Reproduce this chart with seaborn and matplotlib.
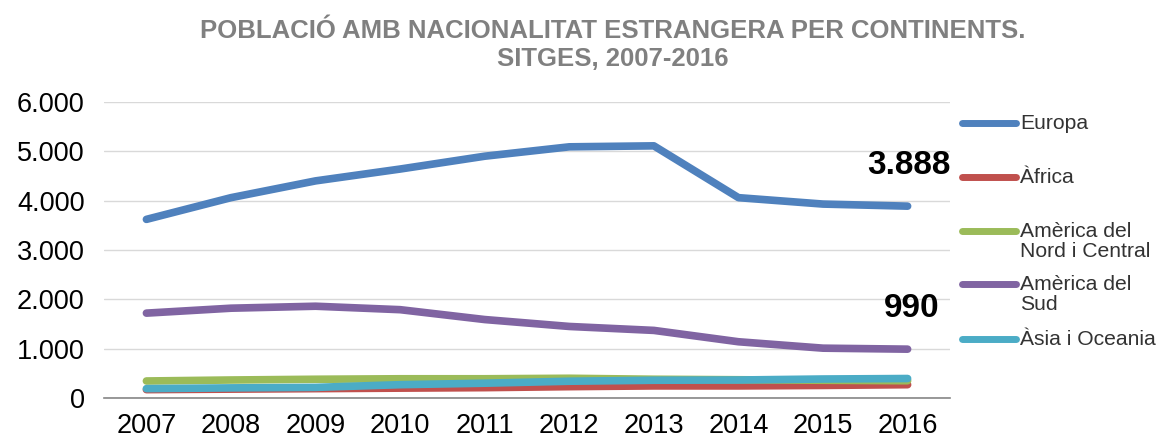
import seaborn as sns
import matplotlib.pyplot as plt
import matplotlib
import pandas as pd
from matplotlib.lines import Line2D
from matplotlib.ticker import FuncFormatter, FixedLocator

years = ['2007', '2008', '2009', '2010', '2011', '2012', '2013', '2014', '2015', '2016']
europa = [3620, 4060, 4400, 4640, 4900, 5090, 5110, 4060, 3930, 3888]
africa = [170, 180, 190, 200, 210, 230, 245, 245, 255, 270]
america_nc = [345, 365, 380, 390, 390, 400, 380, 370, 360, 350]
america_sud = [1720, 1820, 1860, 1790, 1590, 1450, 1370, 1140, 1010, 990]
asia_oceania = [190, 205, 215, 270, 300, 340, 360, 365, 385, 395]

names = ['Europa', 'Àfrica', 'Amèrica del\nNord i Central', 'Amèrica del\nSud', 'Àsia i Oceania']
colors = ['#4F81BD', '#C0504D', '#9BBB59', '#8064A2', '#4BACC6']
series = [europa, africa, america_nc, america_sud, asia_oceania]

rows = []
for name, vals in zip(names, series):
    for i, v in enumerate(vals):
        rows.append({'pos': i, 'any': years[i], 'serie': name, 'valor': v})
df = pd.DataFrame(rows)

sns.set_style('white')
matplotlib.rcParams['font.family'] = ['Liberation Sans', 'DejaVu Sans']

fig = plt.figure(figsize=(11.57, 4.38), dpi=100)
ax = fig.add_axes([0.09, 0.0913, 0.731, 0.676])

sns.lineplot(data=df, x='pos', y='valor', hue='serie', palette=dict(zip(names, colors)),
             hue_order=names, linewidth=5.5, sort=False, legend=False, ax=ax,
             solid_capstyle='round')

ax.set_xlim(-0.5, len(years) - 0.5)
ax.set_ylim(0, 6000)
ax.set_yticks(range(0, 6001, 1000))
ax.yaxis.set_major_formatter(FuncFormatter(lambda v, p: f'{int(v):,}'.replace(',', '.')))
ax.set_xticks(range(len(years)))
ax.set_xticklabels(years)
ax.xaxis.set_minor_locator(FixedLocator([i - 0.5 for i in range(len(years) + 1)]))
ax.tick_params(axis='x', which='major', length=0, labelsize=19.5, pad=11, colors='black')
ax.tick_params(axis='x', which='minor', length=8, width=1.2, color='#868686', direction='out')
ax.tick_params(axis='y', length=0, labelsize=19.5, pad=14, colors='black')
ax.set_xlabel('')
ax.set_ylabel('')
ax.grid(axis='y', color='#D9D9D9', linewidth=1)
ax.set_axisbelow(True)
for s in ['left', 'right', 'top']:
    ax.spines[s].set_visible(False)
ax.spines['bottom'].set_color('#868686')
ax.spines['bottom'].set_linewidth(1.2)

ax.annotate(f'{europa[-1]:,}'.replace(',', '.'), (len(years) - 1, europa[-1]),
            xytext=(1, 18), textcoords='offset points', ha='center', va='bottom',
            fontsize=24, fontweight='bold', color='black')
ax.annotate(f'{america_sud[-1]}', (len(years) - 1, america_sud[-1]),
            xytext=(3, 18), textcoords='offset points', ha='center', va='bottom',
            fontsize=24, fontweight='bold', color='black')

fig.text(0.53, 0.897, 'POBLACIÓ AMB NACIONALITAT ESTRANGERA PER CONTINENTS.\nSITGES, 2007-2016',
         ha='center', va='center', fontsize=18.5, fontweight='bold', color='#808080',
         linespacing=1.25)

# legend drawn by hand: handle aligned with first line of each label
leg_y = [123, 177, 231, 284, 339]
for name, col, yy in zip(names, colors, leg_y):
    yf = 1 - yy / 438
    fig.add_artist(Line2D([962 / 1157, 1016 / 1157], [yf, yf], color=col, linewidth=5,
                          solid_capstyle='round', transform=fig.transFigure))
    fig.text(1020 / 1157, yf + 0.021, name, ha='left', va='top', fontsize=15.2,
             color='#333333', linespacing=1.1)

fig.savefig('out.png', dpi=100)
